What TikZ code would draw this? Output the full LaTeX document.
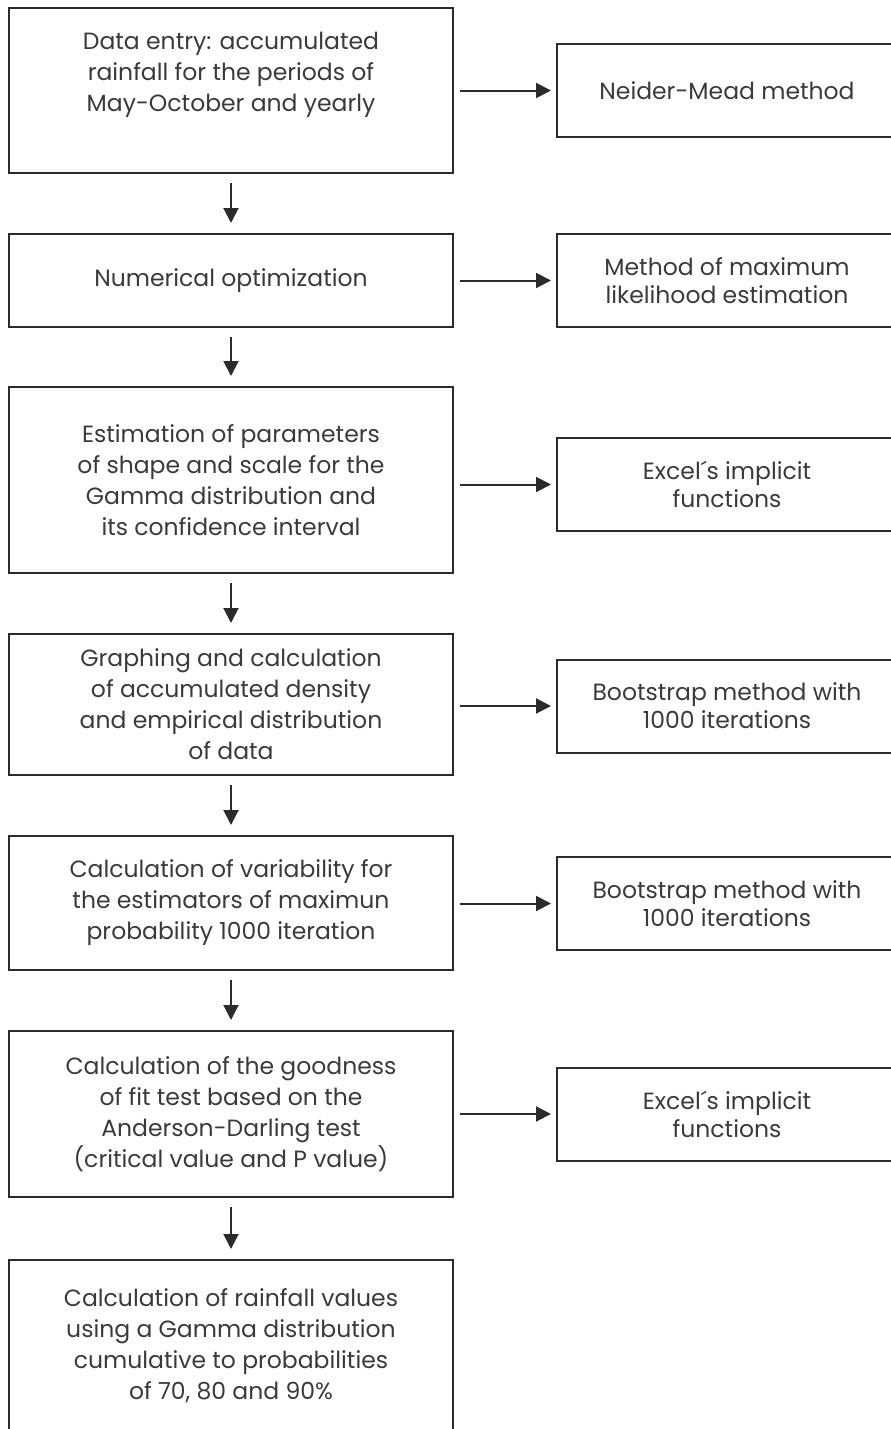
\documentclass[tikz,border=0pt]{standalone}
\usepackage{fontspec}
\setmainfont{Poppins}
\usetikzlibrary{arrows.meta}
\definecolor{ink}{HTML}{2B2B2B}
\definecolor{txtc}{HTML}{3A3A3A}
\begin{document}
\begin{tikzpicture}[x=1pt,y=-1pt,
  box/.style={draw=ink, line width=2pt, inner sep=0pt, outer sep=0pt},
  lbox/.style={box, minimum width=444pt},
  rbox/.style={box, minimum width=340pt, minimum height=93pt},
  ltxt/.style={text=txtc, align=center, font=\fontsize{23.5}{31}\selectfont},
  rtxt/.style={text=txtc, align=center, font=\fontsize{23.5}{28}\selectfont},
  flow/.style={draw=ink, line width=2pt, -{Triangle[length=15pt,width=15pt]}},
  side/.style={flow, shorten <=7pt, shorten >=6pt},
  down/.style={flow, shorten <=10pt, shorten >=11pt},
]
\useasboundingbox (0,0) rectangle (891,1429);
\clip (0,0) rectangle (891,1429);

% main column of process steps
\node[lbox, minimum height=165pt] (b1) at (231,90.5) {};
\node[ltxt] (t1) at (231,75) {Data entry: accumulated\\rainfall for the periods of\\May-October and yearly};
\node[lbox, minimum height=93pt, ltxt] (b2) at (231,280.5) {Numerical optimization};
\node[lbox, minimum height=186pt, ltxt] (b3) at (231,480) {Estimation of parameters\\of shape and scale for the\\Gamma distribution and\\its confidence interval};
\node[lbox, minimum height=141pt, ltxt] (b4) at (231,704.5) {Graphing and calculation\\of accumulated density\\and empirical distribution\\of data};
\node[lbox, minimum height=134pt, ltxt] (b5) at (231,903) {Calculation of variability for\\the estimators of maximun\\probability 1000 iteration};
\node[lbox, minimum height=166pt, ltxt] (b6) at (231,1114) {Calculation of the goodness\\of fit test based on the\\Anderson-Darling test\\(critical value and P value)};
\node[lbox, minimum height=210pt] (b7) at (231,1365) {};
\node[ltxt] (t7) at (231,1346) {Calculation of rainfall values\\using a Gamma distribution\\cumulative to probabilities\\of 70, 80 and 90\%};

% side column of methods
\node[rbox, rtxt] (r1) at (727,90.5) {Neider-Mead method};
\node[rbox, rtxt] (r2) at (727,280.5) {Method of maximum\\likelihood estimation};
\node[rbox, rtxt] (r3) at (727,484.5) {Excel´s implicit\\functions};
\node[rbox, rtxt] (r4) at (727,706) {Bootstrap method with\\1000 iterations};
\node[rbox, rtxt] (r5) at (727,903.5) {Bootstrap method with\\1000 iterations};
\node[rbox, rtxt] (r6) at (727,1114) {Excel´s implicit\\functions};

% downward flow
\foreach \a/\b in {b1/b2,b2/b3,b3/b4,b4/b5,b5/b6,b6/b7}
  \draw[down] (\a.south) -- (\b.north);

% links to the methods
\foreach \a/\b in {b1/r1,b2/r2,b3/r3,b4/r4,b5/r5,b6/r6}
  \draw[side] (\b.west -| \a.east) -- (\b.west);
\end{tikzpicture}
\end{document}
